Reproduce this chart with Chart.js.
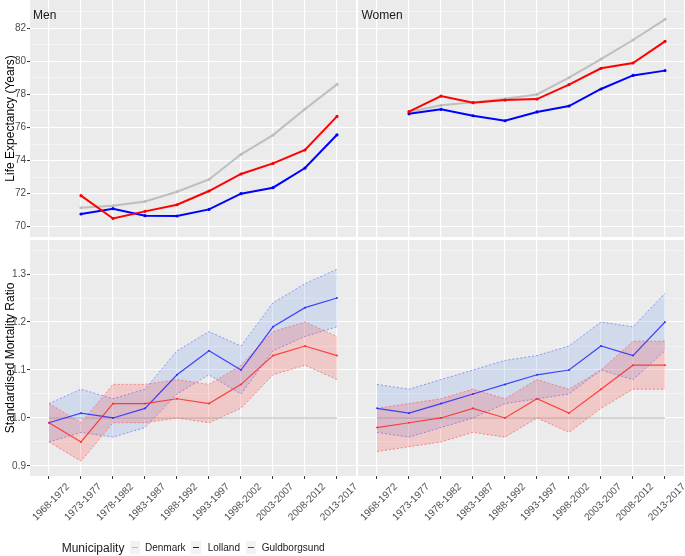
<!DOCTYPE html>
<html>
<head>
<meta charset="utf-8">
<script src="https://cdn.jsdelivr.net/npm/chart.js@4.4.1/dist/chart.umd.min.js"></script>
<style>
    body { margin: 0; background: #fff; font-family: "Liberation Sans", Arial, sans-serif; }
    #wrap { position: relative; width: 685px; height: 556px; overflow: hidden; background: #fff; }
    canvas { position: absolute; }
    .facet { position: absolute; font-size: 12px; line-height: 14px; color: #1a1a1a; white-space: nowrap; }
    .leg { position: absolute; font-size: 10px; line-height: 12px; color: #1a1a1a; white-space: nowrap; }
    .key { position: absolute; top: 541px; width: 10px; height: 13px; background: #f2f2f2; }
    .key span { position: absolute; left: 2px; top: 5.5px; width: 6px; height: 1.6px; }
</style>
</head>
<body>
<div id="wrap">
    <canvas id="menLe" width="356" height="237" style="left:0;top:0"></canvas>
    <canvas id="womenLe" width="326" height="237" style="left:358px;top:0"></canvas>
    <canvas id="menSmr" width="356" height="316" style="left:0;top:240px"></canvas>
    <canvas id="womenSmr" width="326" height="316" style="left:358px;top:240px"></canvas>

    <div class="facet" style="left:33px;top:8px">Men</div>
    <div class="facet" style="left:361.5px;top:8px">Women</div>

    <div class="facet" style="left:61.7px;top:540.6px">Municipality</div>
    <div class="key" style="left:129.7px"><span style="background:#bebebe"></span></div>
    <div class="leg" style="left:145px;top:541.6px">Denmark</div>
    <div class="key" style="left:191.3px"><span style="background:#0000ff"></span></div>
    <div class="leg" style="left:207.7px;top:541.6px">Lolland</div>
    <div class="key" style="left:245.5px"><span style="background:#ff0000"></span></div>
    <div class="leg" style="left:261.7px;top:541.6px">Guldborgsund</div>
</div>

<script>
// periodos (eixo x)
const periods = ['1968-1972', '1973-1977', '1978-1982', '1983-1987', '1988-1992',
    '1993-1997', '1998-2002', '2003-2007', '2008-2012', '2013-2017'];

// ticks dos eixos y
const leTicks = [70, 72, 74, 76, 78, 80, 82];
const smrTicks = [0.9, 1.0, 1.1, 1.2, 1.3];

// expectativa de vida - homens (sem dado para 1968-1972)
const denmarkMenLe = [null, 71.15, 71.27, 71.53, 72.12, 72.86, 74.38, 75.54, 77.12, 78.61];
const lollandMenLe = [null, 70.77, 71.09, 70.67, 70.65, 71.05, 72.0, 72.36, 73.55, 75.56];
const guldMenLe = [null, 71.88, 70.5, 70.93, 71.33, 72.16, 73.19, 73.83, 74.64, 76.67];

// expectativa de vida - mulheres
const denmarkWomenLe = [null, 76.94, 77.34, 77.52, 77.74, 78.0, 79.01, 80.14, 81.29, 82.54];
const lollandWomenLe = [null, 76.83, 77.1, 76.71, 76.41, 76.94, 77.3, 78.33, 79.15, 79.44];
const guldWomenLe = [null, 76.96, 77.9, 77.5, 77.66, 77.72, 78.59, 79.58, 79.9, 81.21];

// SMR - homens
const denmarkMenSmr = [1, 1, 1, 1, 1, 1, 1, 1, 1, 1];
const lollandMenSmr = [0.99, 1.01, 1.00, 1.02, 1.09, 1.14, 1.10, 1.19, 1.23, 1.25];
const lollandMenUp = [1.03, 1.06, 1.04, 1.06, 1.14, 1.18, 1.15, 1.24, 1.28, 1.31];
const lollandMenLo = [0.95, 0.97, 0.96, 0.98, 1.05, 1.09, 1.05, 1.14, 1.17, 1.19];
const guldMenSmr = [0.99, 0.95, 1.03, 1.03, 1.04, 1.03, 1.07, 1.13, 1.15, 1.13];
const guldMenUp = [1.03, 0.99, 1.07, 1.07, 1.08, 1.07, 1.11, 1.18, 1.20, 1.17];
const guldMenLo = [0.95, 0.91, 0.99, 0.99, 1.00, 0.99, 1.02, 1.09, 1.11, 1.08];

// SMR - mulheres
const denmarkWomenSmr = [1, 1, 1, 1, 1, 1, 1, 1, 1, 1];
const lollandWomenSmr = [1.02, 1.01, 1.03, 1.05, 1.07, 1.09, 1.10, 1.15, 1.13, 1.20];
const lollandWomenUp = [1.07, 1.06, 1.08, 1.10, 1.12, 1.13, 1.15, 1.20, 1.19, 1.26];
const lollandWomenLo = [0.97, 0.96, 0.98, 1.00, 1.03, 1.04, 1.05, 1.10, 1.08, 1.14];
const guldWomenSmr = [0.98, 0.99, 1.00, 1.02, 1.00, 1.04, 1.01, 1.06, 1.11, 1.11];
const guldWomenUp = [1.02, 1.03, 1.04, 1.06, 1.04, 1.08, 1.06, 1.10, 1.16, 1.16];
const guldWomenLo = [0.93, 0.94, 0.95, 0.97, 0.96, 1.00, 0.97, 1.02, 1.06, 1.06];

const GRAY = '#bebebe', BLUE = '#0000ff', RED = '#ff0000';
const tickFont = { family: 'Liberation Sans', size: 10 };

function toPoints(values) {
    return values.map((v, i) => ({ x: i, y: v }));
}

// fundo cinza do painel (estilo ggplot)
const panelBg = {
    id: 'panelBg',
    beforeDraw(chart) {
        const a = chart.chartArea;
        chart.ctx.save();
        chart.ctx.fillStyle = '#ebebeb';
        chart.ctx.fillRect(a.left, a.top, a.right - a.left, a.bottom - a.top);
        chart.ctx.restore();
    }
};

function lineLe(label, values, color, order) {
    return {
        label: label, data: toPoints(values), borderColor: color, backgroundColor: color,
        borderWidth: 2, pointRadius: 1.6, pointBorderWidth: 0, order: order, fill: false
    };
}

function smrDatasets(dk, lol, lolUp, lolLo, gul, gulUp, gulLo) {
    let band = (values, line, fillCol, fill, order) => ({
        data: toPoints(values), borderColor: line, borderWidth: 1, borderDash: [2, 2],
        backgroundColor: fillCol, fill: fill, pointRadius: 0, order: order
    });
    return [
        band(lolUp, 'rgba(110,120,255,0.75)', 'rgba(100,149,237,0.2)', '+1', 5),
        band(lolLo, 'rgba(110,120,255,0.75)', 'rgba(100,149,237,0.2)', false, 5),
        band(gulUp, 'rgba(255,100,100,0.75)', 'rgba(255,60,60,0.2)', '+1', 4),
        band(gulLo, 'rgba(255,100,100,0.75)', 'rgba(255,60,60,0.2)', false, 4),
        { data: toPoints(dk), borderColor: 'rgba(190,190,190,0.8)', borderWidth: 1.5, pointRadius: 0, fill: false, order: 6 },
        { data: toPoints(lol), borderColor: 'rgba(40,40,255,0.85)', backgroundColor: 'rgba(40,40,255,0.85)', borderWidth: 1.2, pointRadius: 1, pointBorderWidth: 0, fill: false, order: 1 },
        { data: toPoints(gul), borderColor: 'rgba(255,40,40,0.85)', backgroundColor: 'rgba(255,40,40,0.85)', borderWidth: 1.2, pointRadius: 1, pointBorderWidth: 0, fill: false, order: 0 }
    ];
}

function desenharPainel(id, datasets, yRange, majors, decimals, leftAxis, bottomAxis, title) {
    // grade menor entre os ticks principais
    let allTicks = [];
    majors.forEach((v, i) => {
        allTicks.push(v);
        allTicks.push(v + (majors[1] - majors[0]) / 2);
    });
    let isMajor = (v) => majors.some(m => Math.abs(m - v) < 1e-6);

    new Chart(document.getElementById(id), {
        type: 'line',
        data: { datasets: datasets },
        plugins: [panelBg],
        options: {
            responsive: false,
            animation: false,
            devicePixelRatio: 1,
            layout: { padding: 0, autoPadding: false },
            plugins: { legend: { display: false }, tooltip: { enabled: false } },
            scales: {
                x: {
                    type: 'linear',
                    min: -0.594,
                    max: 9.594,
                    afterBuildTicks: (s) => { s.ticks = periods.map((p, i) => ({ value: i })); },
                    afterFit: (s) => {
                        s.height = bottomAxis ? 80 : 0;
                        s.paddingLeft = 0; s.paddingRight = 0; s.paddingTop = 0; s.paddingBottom = 0;
                    },
                    border: { display: false },
                    grid: {
                        color: '#ffffff', lineWidth: 1.1,
                        drawTicks: bottomAxis, tickLength: 3, tickColor: '#333333', tickWidth: 1
                    },
                    ticks: {
                        display: bottomAxis,
                        autoSkip: false,
                        minRotation: 45, maxRotation: 45,
                        labelOffset: 19,
                        padding: 2,
                        color: '#4d4d4d',
                        font: tickFont,
                        callback: (v) => periods[v]
                    }
                },
                y: {
                    type: 'linear',
                    min: yRange[0],
                    max: yRange[1],
                    afterBuildTicks: (s) => { s.ticks = allTicks.filter(v => v <= yRange[1]).map(v => ({ value: v })); },
                    afterFit: (s) => {
                        s.width = leftAxis ? 30 : 0;
                        s.paddingLeft = 0; s.paddingRight = 0; s.paddingTop = 0; s.paddingBottom = 0;
                    },
                    border: { display: false },
                    grid: {
                        color: (c) => isMajor(c.tick.value) ? '#ffffff' : 'rgba(255,255,255,0.55)',
                        lineWidth: (c) => isMajor(c.tick.value) ? 1.1 : 0.8,
                        drawTicks: leftAxis, tickLength: 3, tickWidth: 1,
                        tickColor: (c) => isMajor(c.tick.value) ? '#333333' : 'rgba(0,0,0,0)'
                    },
                    ticks: {
                        display: leftAxis,
                        padding: 1,
                        color: '#4d4d4d',
                        font: tickFont,
                        callback: (v) => isMajor(v) ? v.toFixed(decimals) : ''
                    },
                    title: {
                        display: leftAxis && !!title,
                        text: title,
                        color: '#000000',
                        font: { family: 'Liberation Sans', size: 12 },
                        padding: { top: 3, bottom: 0 }
                    }
                }
            }
        }
    });
}

const leRange = [69.38, 83.71];
const smrRange = [0.879, 1.371];

desenharPainel('menLe', [
    lineLe('Denmark', denmarkMenLe, GRAY, 2),
    lineLe('Lolland', lollandMenLe, BLUE, 1),
    lineLe('Guldborgsund', guldMenLe, RED, 0)
], leRange, leTicks, 0, true, false, 'Life Expectancy (Years)');

desenharPainel('womenLe', [
    lineLe('Denmark', denmarkWomenLe, GRAY, 2),
    lineLe('Lolland', lollandWomenLe, BLUE, 1),
    lineLe('Guldborgsund', guldWomenLe, RED, 0)
], leRange, leTicks, 0, false, false, '');

desenharPainel('menSmr', smrDatasets(denmarkMenSmr, lollandMenSmr, lollandMenUp, lollandMenLo,
    guldMenSmr, guldMenUp, guldMenLo), smrRange, smrTicks, 1, true, true, 'Standardised Mortality Ratio');

desenharPainel('womenSmr', smrDatasets(denmarkWomenSmr, lollandWomenSmr, lollandWomenUp, lollandWomenLo,
    guldWomenSmr, guldWomenUp, guldWomenLo), smrRange, smrTicks, 1, false, true, '');
</script>
</body>
</html>
